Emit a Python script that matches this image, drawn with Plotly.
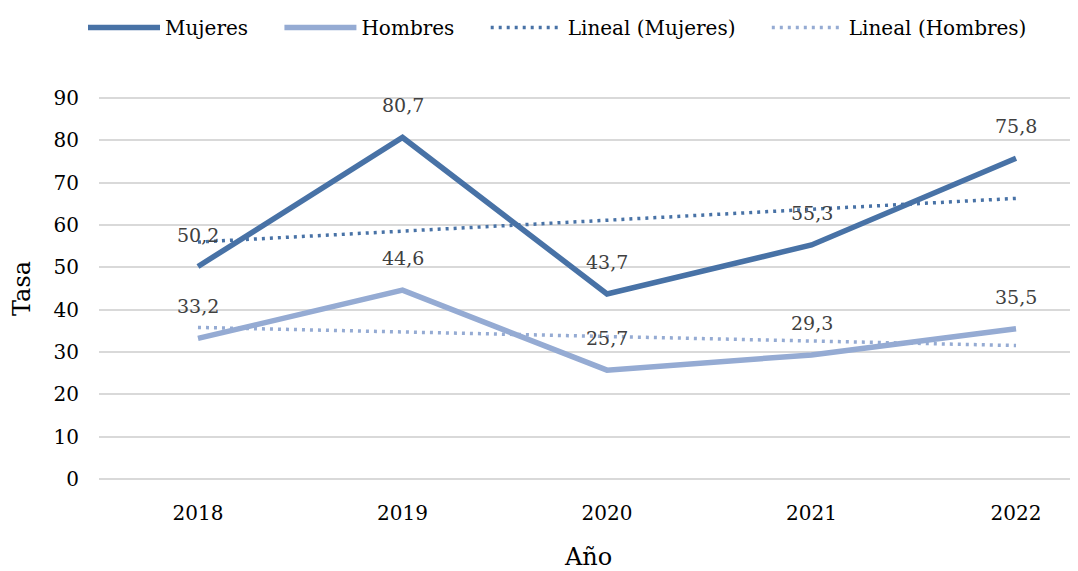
"""Tasa por sexo 2018-2022 con líneas de tendencia lineal."""

import plotly.graph_objects as go

# ── Datos ──────────────────────────────────────────────────────────────────
YEARS = [2018, 2019, 2020, 2021, 2022]
MUJERES = [50.2, 80.7, 43.7, 55.3, 75.8]
HOMBRES = [33.2, 44.6, 25.7, 29.3, 35.5]
# tendencia lineal
TREND_MUJERES = [55.98, 58.56, 61.14, 63.72, 66.30]
TREND_HOMBRES = [35.80, 34.73, 33.66, 32.59, 31.52]

# ── Estilo ─────────────────────────────────────────────────────────────────
DARK_BLUE = "#4872A6"
LIGHT_BLUE = "#95ABD3"
GRID = "#D9D9D9"
LABEL = "#404040"
FONT = "DejaVu Serif"
PAD = "\u2002\u2002\u00a0"  # separación extra entre entradas de la leyenda


def fmt(v):
    return f"{v:.1f}".replace(".", ",")


fig = go.Figure()

fig.add_trace(go.Scatter(
    x=YEARS, y=MUJERES, name="Mujeres" + PAD, mode="lines",
    line={"color": DARK_BLUE, "width": 5.5},
))
fig.add_trace(go.Scatter(
    x=YEARS, y=HOMBRES, name="Hombres" + PAD, mode="lines",
    line={"color": LIGHT_BLUE, "width": 5.5},
))
fig.add_trace(go.Scatter(
    x=YEARS, y=TREND_MUJERES, name="Lineal (Mujeres)" + PAD, mode="lines",
    line={"color": DARK_BLUE, "width": 3.5, "dash": "3px,5px"},
))
fig.add_trace(go.Scatter(
    x=YEARS, y=TREND_HOMBRES, name="Lineal (Hombres)", mode="lines",
    line={"color": LIGHT_BLUE, "width": 3.5, "dash": "3px,5px"},
))

# etiquetas de datos encima de cada punto
for series in (MUJERES, HOMBRES):
    for x, y in zip(YEARS, series):
        fig.add_annotation(
            x=x, y=y, text=fmt(y), showarrow=False,
            yshift=32, font={"family": FONT, "size": 19, "color": LABEL},
        )

# la página añade 8 px de margen al cuerpo: la figura es 8 px más pequeña
fig.update_layout(
    width=1070,
    height=563,
    plot_bgcolor="white",
    paper_bgcolor="white",
    font={"family": FONT, "size": 20, "color": "#000000"},
    margin={"l": 91, "r": 0, "t": 88, "b": 90, "autoexpand": False},
    showlegend=True,
    legend={
        "orientation": "h",
        "xref": "container", "yref": "container",
        "x": 0.0701, "xanchor": "left",
        "y": 1.0, "yanchor": "top",
        "font": {"size": 20},
        "itemwidth": 72,
        "tracegroupgap": 0,
    },
    xaxis={
        "range": [2017.516, 2022.303],
        "tickvals": YEARS,
        "ticktext": [str(y) for y in YEARS],
        "showgrid": False,
        "zeroline": False,
        "showline": False,
        "ticklabelstandoff": 18,
        "title": {"text": "Año", "standoff": 32},
    },
    yaxis={
        "range": [-0.5, 90.5],
        "tickvals": list(range(0, 91, 10)),
        "gridcolor": GRID,
        "gridwidth": 2,
        "zeroline": False,
        "showline": False,
        "ticklabelstandoff": 19,
        "title": {"text": "Tasa", "standoff": 20},
    },
)

fig.write_html("out.html")
